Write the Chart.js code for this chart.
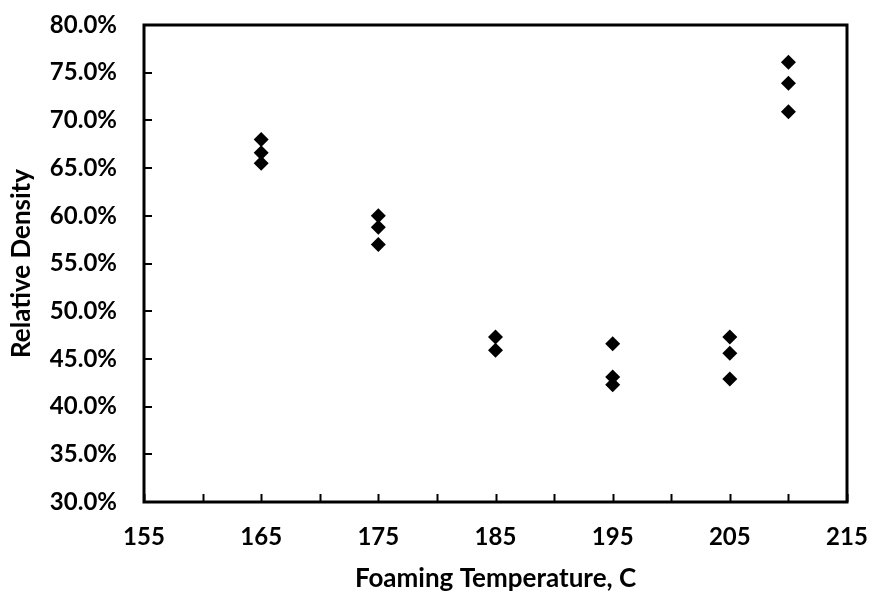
<!DOCTYPE html>
<html>
<head>
<meta charset="utf-8">
<script src="https://cdn.jsdelivr.net/npm/chart.js@4/dist/chart.umd.min.js"></script>
<style>
  html, body { margin: 0; padding: 0; background: #fff; }
  #wrap { width: 873px; height: 594px; }
</style>
</head>
<body>
<div id="wrap"><canvas id="density"></canvas></div>
<script>
const FONT = "Lato, 'Open Sans', sans-serif";

// foaming temperature (C) and relative density (%)
const temps   = [165, 165, 165, 175, 175, 175, 185, 185, 195, 195, 195, 205, 205, 205, 210, 210, 210];
const density = [68.0, 66.6, 65.5, 60.0, 58.8, 57.0, 47.3, 45.9, 46.6, 43.1, 42.3, 47.3, 45.6, 42.9, 76.1, 73.9, 70.9];

const xRange = [155, 215];
const yRange = [30, 80];

// box frame + tick marks pointing into the plot
const frameTicks = {
  id: "frameTicks",
  afterDraw(chart){
    const { ctx, chartArea: a, scales } = chart;
    ctx.save();
    ctx.strokeStyle = "#000";
    ctx.lineWidth = 2;
    scales.x.ticks.forEach(t => {
      const px = Math.round(scales.x.getPixelForValue(t.value)) + 0.5;
      ctx.beginPath(); ctx.moveTo(px, a.bottom); ctx.lineTo(px, a.bottom - 8); ctx.stroke();
    });
    scales.y.ticks.forEach(t => {
      const py = Math.round(scales.y.getPixelForValue(t.value));
      ctx.beginPath(); ctx.moveTo(a.left, py); ctx.lineTo(a.left + 8, py); ctx.stroke();
    });
    ctx.lineWidth = 3;
    ctx.strokeRect(a.left, a.top, a.right - a.left, a.bottom - a.top);
    ctx.restore();
  }
};

// keep tick labels from pushing the plot area in
function noOverflow(s){
  s.paddingTop = 0; s.paddingBottom = 0; s.paddingLeft = 0; s.paddingRight = 0;
}

new Chart(document.getElementById("density"), {
  type: "scatter",
  data: {
    datasets: [{
      label: "Relative Density",
      data: temps.map((t, i) => ({ x: t, y: density[i] })),
      pointStyle: "rectRot",
      pointRadius: 7.5,
      pointHoverRadius: 7.5,
      backgroundColor: "#000",
      borderColor: "#000",
      borderWidth: 0
    }]
  },
  options: {
    responsive: true,
    maintainAspectRatio: false,
    animation: false,
    layout: { padding: { left: 0, top: 25, right: 26, bottom: 0 } },
    plugins: { legend: { display: false }, tooltip: { enabled: false } },
    scales: {
      x: {
        type: "linear",
        min: xRange[0],
        max: xRange[1],
        grid: { display: false, drawTicks: false },
        border: { display: false },
        afterFit: (s) => { noOverflow(s); s.height = 92; },
        ticks: {
          stepSize: 5,
          padding: 21,
          maxRotation: 0,
          autoSkip: false,
          color: "#000",
          font: { family: FONT, size: 24, weight: "bold" },
          callback: (v) => ((v - xRange[0]) % 10 === 0 ? String(v) : "")
        },
        title: {
          display: true,
          text: "Foaming Temperature, C",
          color: "#000",
          font: { family: FONT, size: 26, weight: "bold" },
          padding: { top: 0, bottom: 0 }
        }
      },
      y: {
        min: yRange[0],
        max: yRange[1],
        grid: { display: false, drawTicks: false },
        border: { display: false },
        afterFit: (s) => { noOverflow(s); s.width = 144; },
        ticks: {
          stepSize: 5,
          padding: 27,
          color: "#000",
          font: { family: FONT, size: 24, weight: "bold" },
          callback: (v) => v.toFixed(1) + "%"
        },
        title: {
          display: true,
          text: "Relative Density",
          color: "#000",
          font: { family: FONT, size: 26, weight: "bold" },
          padding: { top: 6, bottom: 0 }
        }
      }
    }
  },
  plugins: [frameTicks]
});
</script>
</body>
</html>
